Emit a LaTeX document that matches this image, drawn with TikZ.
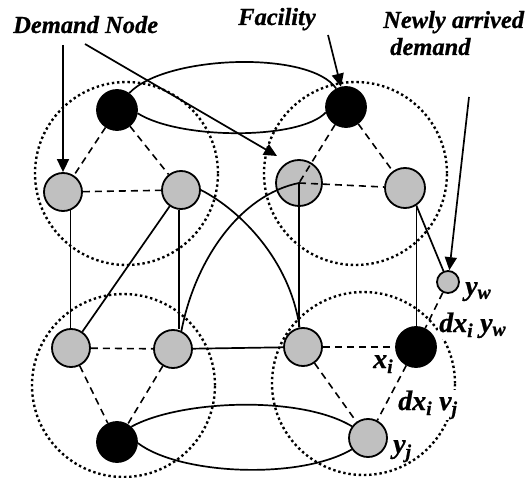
\documentclass[tikz,border=0pt]{standalone}
\usepackage{fontspec}
\setmainfont{Liberation Serif}
\newfontfamily\lblfont{Liberation Serif}[UprightFont=* Bold Italic,BoldFont=* Bold Italic,ItalicFont=* Bold Italic,BoldItalicFont=* Bold Italic,FakeBold=0.8]
\usetikzlibrary{arrows.meta}
\definecolor{nodegray}{HTML}{C0C0C0}
\begin{document}
\begin{tikzpicture}[x=1pt,y=-1pt,
  demand/.style={circle,draw=black,line width=1.8pt,fill=nodegray,minimum size=38pt,inner sep=0pt},
  facility/.style={circle,draw=black,fill=black,line width=1.8pt,minimum size=40pt,inner sep=0pt},
  zone/.style={circle,draw=black,line width=2.4pt,dash pattern=on 2.4pt off 2.8pt,minimum size=183pt,inner sep=0pt},
  link/.style={line width=1.7pt},
  dlink/.style={line width=1.6pt,dash pattern=on 7pt off 5pt},
  pointer/.style={line width=1.7pt,-{Triangle[length=13pt,width=12pt]}},
  lbl/.style={font=\fontsize{24.5}{27}\lblfont,inner sep=0pt},
  mlbl/.style={font=\fontsize{28}{30}\lblfont,inner sep=0pt},
]
\useasboundingbox (0,0) rectangle (530,478);

% zones
\node[zone] (ztl) at (126.5,173.5) {};
\node[zone] (ztr) at (355.5,173.5) {};
\node[zone] (zbl) at (123.5,385.5) {};
\node[zone] (zbr) at (363.5,383.5) {};

% nodes
\node[facility] (tlf) at (117,110) {};
\node[demand] (tl1) at (63,192) {};
\node[demand] (tl2) at (181,190) {};
\node[facility] (trf) at (346,107) {};
\node[demand,minimum size=46pt] (tr1) at (299,183) {};
\node[demand,minimum size=40pt] (tr2) at (405,188) {};
\node[demand] (bl1) at (71,348) {};
\node[demand] (bl2) at (173,349) {};
\node[facility] (blf) at (117,442) {};
\node[demand] (br1) at (303,347) {};
\node[facility] (xi) at (416,347) {};
\node[demand] (yj) at (368,438) {};
\node[demand,minimum size=22pt] (yw) at (448,282) {};

% facility loops
\draw[link] (tlf.54) .. controls (165,55) and (310,50) .. (trf.118);
\draw[link] (tlf.-9) .. controls (180,140) and (300,140) .. (trf.195);
\draw[link] (blf.47) .. controls (180,400) and (300,395) .. (yj.144);
\draw[link] (blf.-3) .. controls (180,475) and (300,480) .. (yj.215);

% dashed links
\draw[dlink] (tlf) -- (tl1);
\draw[dlink] (tlf) -- (tl2);
\draw[dlink] (tl1) -- (tl2);
\draw[dlink] (trf) -- (tr1.center);
\draw[dlink] (tr1.center) -- (tr2);
\draw[dlink] (trf) -- (tr2);
\draw[dlink] (bl1) -- (bl2);
\draw[dlink] (bl1) -- (blf);
\draw[dlink] (bl2) -- (blf);
\draw[dlink] (br1) -- (xi);
\draw[dlink] (br1) -- (yj);
\draw[dlink] (xi) -- (yj);
\draw[dlink] (yw) -- (xi);

% solid links
\draw[link] (tl1.-68) -- (tl1.-68 |- bl1.north);
\draw[link] (tl2.-95) -- (tl2.-95 |- bl2.north);
\draw[link] (tl2) -- (bl1);
\draw[link] (tl2.east) .. controls (240,210) and (290,260) .. (br1.100);
\draw[link] (bl2.65) .. controls (195,260) and (240,195) .. (tr1.center);
\draw[link] (tr1.center) -- (tr1.center |- br1.north);
\draw[link] (bl2) -- (br1);
\draw[link] (tr2.-57) -- (tr2.-57 |- xi.north);
\draw[link] (tr2.-57) -- (yw);

% pointers
\coordinate (dn1) at (63,45);
\coordinate (dn2) at (85,44);
\coordinate (dn2end) at (277,156);
\coordinate (fa) at (328,35);
\coordinate (na) at (469,97);
\draw[pointer] (dn1) -- (tl1.north);
\draw[pointer] (dn2) -- (dn2end);
\draw[pointer] (fa) -- (trf);
\draw[pointer] (na) -- (yw);

% labels
\node[lbl,anchor=base west] (ldn) at (13,33) {Demand Node};
\node[lbl,anchor=base west] (lfa) at (238,25) {Facility};
\node[lbl,anchor=base west,align=left] (lna) at (383,55) {Newly arrived\\\hspace*{7pt}demand};
\node[mlbl,anchor=base west] (lyw) at (465,295) {y\textsubscript{w}};
\node[mlbl,anchor=base west,fill=white,inner sep=1pt] (ldyw) at (438,332) {dx\textsubscript{i} y\textsubscript{w}};
\node[mlbl,anchor=base west] (lxi) at (373,368) {x\textsubscript{i}};
\node[mlbl,anchor=base west,fill=white,inner sep=1pt] (ldvj) at (397,410) {dx\textsubscript{i} v\textsubscript{j}};
\node[mlbl,anchor=base west] (lyj) at (393,453) {y\textsubscript{j}};
\end{tikzpicture}
\end{document}
